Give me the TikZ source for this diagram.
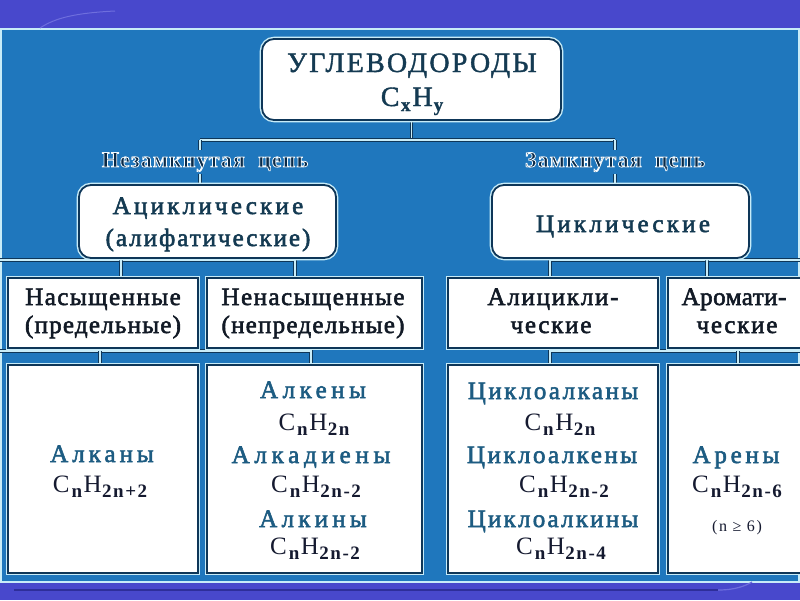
\documentclass[tikz,border=0pt]{standalone}
\usepackage{fontspec}
\setmainfont{Liberation Serif}
\newfontfamily\hv{Liberation Serif}[FakeBold=2.2]
\newfontfamily\hvt{Liberation Serif}[FakeBold=1.4]
\newfontfamily\halofont{Liberation Serif Bold}[FakeBold=3.6]
\definecolor{bgblue}{HTML}{1F77BD}
\definecolor{band}{HTML}{4848CC}
\definecolor{bandlight}{HTML}{6E6EDD}
\definecolor{banddark}{HTML}{2E2E9A}
\definecolor{lightline}{HTML}{C8ECF8}
\definecolor{navy}{HTML}{0E3658}
\definecolor{halonavy}{HTML}{0A2A48}
\definecolor{headc}{HTML}{143A52}
\definecolor{rowc}{HTML}{121A26}
\definecolor{namec}{HTML}{1D5C82}
\definecolor{fmlc}{HTML}{151A30}
\pgfdeclarelayer{back}
\pgfdeclarelayer{links}
\pgfsetlayers{back,links,main}
\newcommand\subs[2]{\raisebox{-5pt}{\fontsize{#1}{#1}\selectfont\bfseries\addfontfeatures{LetterSpace=8}#2}}
\newcommand\fml[2]{C\kern2pt\subs{19}{#1}\kern1.5pt H\kern0.5pt\subs{19}{#2}}
\newcommand\ls[2]{{\addfontfeatures{LetterSpace=#1}#2}}
\newcommand\halo[1]{\special{pdf:literal direct 0.95 0.98 1 RG}#1\special{pdf:literal direct 0.039 0.165 0.282 RG}}
\tikzset{
  boxbase/.style={draw=navy, line width=1.8pt, fill=white, inner sep=0pt,
    preaction={draw=lightline, line width=4.6pt}},
  rbox/.style={boxbase, rounded corners=12pt},
  sbox/.style={boxbase},
  conn/.style={draw=navy, double=lightline, double distance=1.8pt, line width=0.7pt},
  txt/.style={anchor=base, inner sep=0pt, font=\fontsize{25}{25}\selectfont\hv},
  headt/.style={txt, text=headc},
  rowt/.style={txt, text=rowc},
  namet/.style={txt, text=namec},
  fmlt/.style={anchor=base, inner sep=0pt, text=fmlc, font=\fontsize{25}{25}\selectfont},
  halot/.style={anchor=base, inner sep=2pt, text=halonavy, font=\fontsize{22}{22}\selectfont\halofont},
}
\begin{document}
\begin{tikzpicture}[x=1pt,y=-1pt]
\useasboundingbox (0,0) rectangle (800,600);
\clip (0,0) rectangle (800,600);
\begin{pgfonlayer}{back}
\fill[band] (0,0) rectangle (800,600);
\fill[lightline] (0,28) rectangle (800,583);
\fill[bgblue] (2,30) rectangle (798,581);
\draw[bandlight, line width=1pt] (40,28) .. controls (55,18) and (75,13) .. (115,11);
\draw[banddark, line width=1.2pt] (14,590) -- (718,590);
\draw[bandlight, line width=1.2pt] (718,590) .. controls (735,590) and (745,586) .. (752,582);
\end{pgfonlayer}

% boxes
\node[rbox, minimum width=299pt, minimum height=81pt] (root) at (411.5,79.5) {};
\node[rbox, minimum width=257pt, minimum height=73pt] (acyc) at (207.5,221.5) {};
\node[rbox, minimum width=257pt, minimum height=73pt] (cyc) at (620.5,221.5) {};
\node[sbox, minimum width=190pt, minimum height=70pt] (sat) at (103,313) {};
\node[sbox, minimum width=215pt, minimum height=70pt] (unsat) at (314.5,313) {};
\node[sbox, minimum width=210pt, minimum height=70pt] (alicyc) at (553,313) {};
\node[sbox, minimum width=140pt, minimum height=70pt] (arom) at (738,313) {};
\node[sbox, minimum width=190pt, minimum height=208pt] (alk) at (103,469) {};
\node[sbox, minimum width=215pt, minimum height=208pt] (unsatlist) at (314.5,469) {};
\node[sbox, minimum width=210pt, minimum height=208pt] (cyclist) at (553,469) {};
\node[sbox, minimum width=140pt, minimum height=208pt] (aren) at (738,469) {};

% labels on the first branches
\node[halot] (lopen) at (205,167) {\halo{\ls{5}{Незамкнутая\ \ цепь}}};
\node[halot] (lclosed) at (615,167) {\halo{\ls{5}{Замкнутая\ \ цепь}}};

% texts
\node[headt, font=\fontsize{28}{28}\selectfont\hvt] (t1) at (412,72) {\ls{8}{УГЛЕВОДОРОДЫ}};
\node[fmlt, font=\fontsize{28}{28}\selectfont\hvt, text=headc] (t2) at (412,106) {C\kern1.5pt\raisebox{-5pt}{\fontsize{19}{19}\selectfont\bfseries x}\kern2pt H\kern1pt\raisebox{-5pt}{\fontsize{19}{19}\selectfont\bfseries y}};
\node[headt] (t3) at (208,214) {\ls{13}{Ациклические}};
\node[headt] (t4) at (208,246) {\ls{8}{(алифатические)}};
\node[headt] (t5) at (623,232) {\ls{13}{Циклические}};
\node[rowt] (t6) at (103,305) {\ls{6}{Насыщенные}};
\node[rowt] (t7) at (103,333) {\ls{5}{(предельные)}};
\node[rowt] (t8) at (313,305) {\ls{6}{Ненасыщенные}};
\node[rowt] (t9) at (313,333) {\ls{5}{(непредельные)}};
\node[rowt] (t10) at (553,305) {\ls{7}{Алицикли-}};
\node[rowt] (t11) at (551,333) {\ls{7}{ческие}};
\node[rowt] (t12) at (734,305) {\ls{2}{Аромати-}};
\node[rowt] (t13) at (737,333) {\ls{7}{ческие}};

\node[namet] (n1) at (102,462) {\ls{16}{Алканы}};
\node[fmlt] (f1) at (100,492) {\fml{n}{2n+2}};
\node[namet] (n2) at (313,398) {\ls{18}{Алкены}};
\node[fmlt] (f2) at (314,430) {\fml{n}{2n}};
\node[namet] (n3) at (311,463) {\ls{19}{Алкадиены}};
\node[fmlt] (f3) at (316,492) {\fml{n}{2n-2}};
\node[namet] (n4) at (313,527) {\ls{17}{Алкины}};
\node[fmlt] (f4) at (315,554) {\fml{n}{2n-2}};
\node[namet] (n5) at (553,399) {\ls{10}{Циклоалканы}};
\node[fmlt] (f5) at (560,430) {\fml{n}{2n}};
\node[namet] (n6) at (552,463) {\ls{10}{Циклоалкены}};
\node[fmlt] (f6) at (564,492) {\fml{n}{2n-2}};
\node[namet] (n7) at (553,527) {\ls{9}{Циклоалкины}};
\node[fmlt] (f7) at (561,554) {\fml{n}{2n-4}};
\node[namet] (n8) at (736,463) {\ls{15}{Арены}};
\node[fmlt] (f8) at (737,492) {\fml{n}{2n-6}};
\node[fmlt, font=\fontsize{16}{16}\selectfont] (f9) at (737,531) {\ls{10}{(n ≥ 6)}};

% connectors
\coordinate (j1) at (200,140);
\coordinate (j2) at (615,140);
\coordinate (a0) at (-5,260);
\coordinate (a1) at (121,260);
\coordinate (a2) at (295,260);
\coordinate (c1) at (550,260);
\coordinate (c2) at (707,260);
\coordinate (c3) at (805,260);
\coordinate (b0) at (-5,351);
\coordinate (b1) at (100,351);
\coordinate (b2) at (311,351);
\coordinate (d1) at (550,351);
\coordinate (d2) at (738,351);
\coordinate (d3) at (805,351);
\begin{pgfonlayer}{links}
\draw[conn] (root.south) -- (root.south |- j1);
\draw[conn] (j1) -- (j2);
\draw[conn] (j1) -- (lopen.north -| j1);
\draw[conn] (lopen.south -| j1) -- (acyc.north -| j1);
\draw[conn] (j2) -- (lclosed.north -| j2);
\draw[conn] (lclosed.south -| j2) -- (cyc.north -| j2);
\draw[conn] (a0) -- (a2) -- (unsat.north -| a2);
\draw[conn] (a1) -- (sat.north -| a1);
\draw[conn] (c3) -- (c1) -- (alicyc.north -| c1);
\draw[conn] (c2) -- (arom.north -| c2);
\draw[conn] (b0) -- (b2) -- (unsatlist.north -| b2);
\draw[conn] (b1) -- (alk.north -| b1);
\draw[conn] (d3) -- (d1) -- (cyclist.north -| d1);
\draw[conn] (d2) -- (aren.north -| d2);
\end{pgfonlayer}
\end{tikzpicture}
\end{document}
